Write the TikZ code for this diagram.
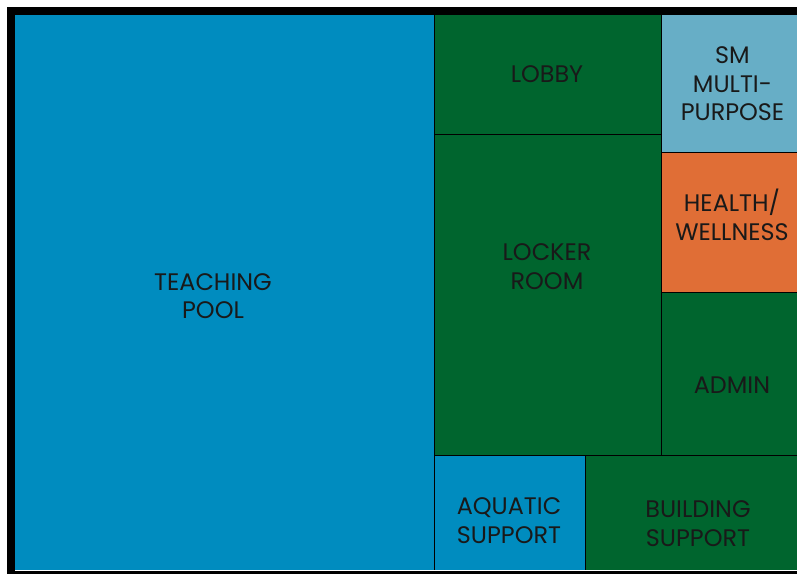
\documentclass[tikz,border=0pt]{standalone}
\usepackage{fontspec}
\setmainfont{Poppins}
\definecolor{medence}{HTML}{008CBF}
\definecolor{zold}{HTML}{00652E}
\definecolor{vilagos}{HTML}{67AEC6}
\definecolor{narancs}{HTML}{E06E36}
\tikzset{
  felirat/.style={align=center, text=black!90, font=\fontsize{24}{28.5}\selectfont, inner sep=0pt}
}
\begin{document}
\begin{tikzpicture}[x=1bp, y=-1bp]
    \fill[white] (0,0) rectangle (797,574);
    %Semmi sem lóghat ki a lapról, ezért csak kitöltéseket használunk a széleken
    \fill (15,15) rectangle (434,570) [fill=medence];
    \fill (434,15) rectangle (661,134) [fill=zold];
    \fill (434,134) rectangle (661,455) [fill=zold];
    \fill (661,15) rectangle (797,152) [fill=vilagos];
    \fill (661,152) rectangle (797,292) [fill=narancs];
    \fill (661,292) rectangle (797,455) [fill=zold];
    \fill (434,455) rectangle (585,570) [fill=medence];
    \fill (585,455) rectangle (797,570) [fill=zold];
    %A belső vékony vonalak
    \draw (434,15) -- (434,570);
    \draw (661,15) -- (661,455);
    \draw (585,455) -- (585,570);
    \draw (434,134) -- (661,134);
    \draw (661,152) -- (797,152);
    \draw (661,292) -- (797,292);
    \draw (434,455) -- (797,455);
    %A vastag keret csak balra, fent és lent látszik
    \fill (7,7) rectangle (797,15);
    \fill (7,7) rectangle (15,574);
    \fill (7,571) rectangle (797,574);
    \node[felirat] (pool) at (213,296) {TEACHING\\POOL};
    \node[felirat] (lobby) at (547,74) {LOBBY};
    \node[felirat] (locker) at (547,266.5) {LOCKER\\ROOM};
    \node[felirat] (multi) at (732.5,84) {SM\\MULTI-\\PURPOSE};
    \node[felirat] (health) at (732,215) {HEALTH/\\WELLNESS};
    \node[felirat] (admin) at (732,385) {ADMIN};
    \node[felirat] (aquatic) at (509,520.5) {AQUATIC\\SUPPORT};
    \node[felirat] (building) at (698,523.5) {BUILDING\\SUPPORT};
    %A végén rögzítjük a kép méretét
    \pgfresetboundingbox
    \useasboundingbox (0,0) rectangle (797,574);
\end{tikzpicture}
\end{document}
